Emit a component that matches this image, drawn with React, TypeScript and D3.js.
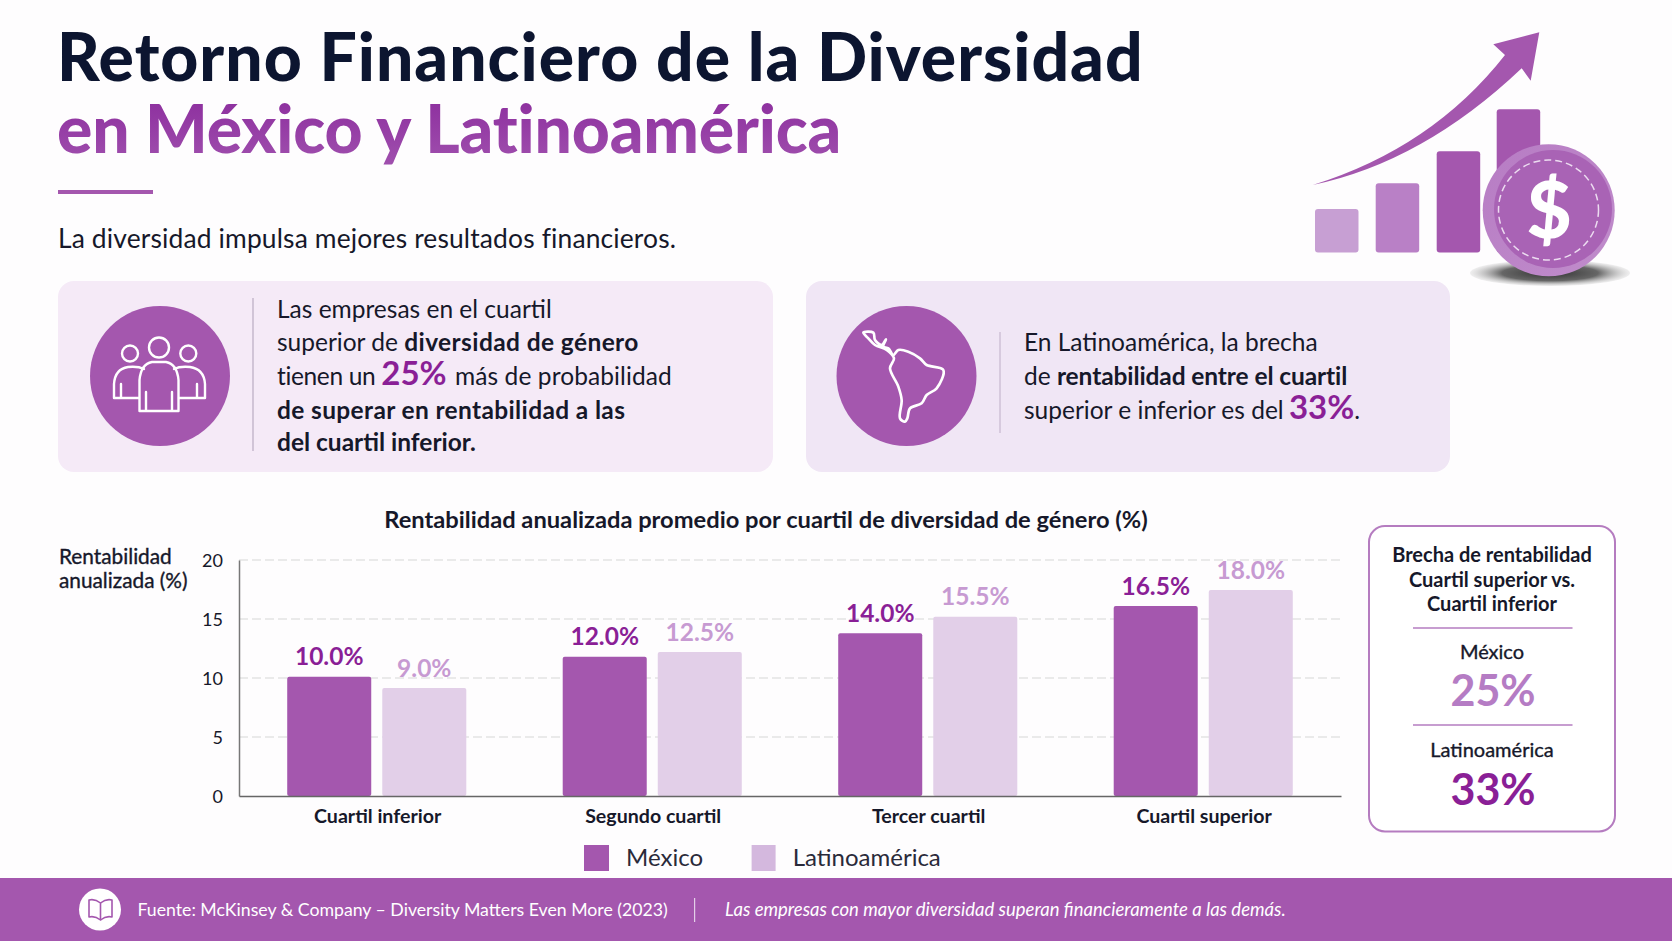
import React, { useRef, useEffect } from "react";
import * as d3 from "d3";

// bar heights as drawn in the picture, printed labels kept apart (they differ a bit)
const categories = ["Cuartil inferior", "Segundo cuartil", "Tercer cuartil", "Cuartil superior"];
const seriesNames = ["México", "Latinoamérica"];
const mexicoValues = [10.1, 11.8, 13.8, 16.1];
const latamValues = [9.15, 12.2, 15.2, 17.45];
const mexicoLabels = ["10.0%", "12.0%", "14.0%", "16.5%"];
const latamLabels = ["9.0%", "12.5%", "15.5%", "18.0%"];
const yTicks = [0, 5, 10, 15, 20];
const iconBars = [1, 2, 3.5, 5];
const iconBarColors = ["#c79fd3", "#b980c6", "#a457ae", "#a457ae"];

const FONT = "Lato, 'Open Sans', sans-serif";
const PURPLE = "#a457ae";
const DEEP = "#8a1f96";
const SOFT = "#c79ad2";
const PALE = "#e2cfe8";
const INK = "#16182a";

const mapPts: [number, number][] = [
  [130, 128], [160, 128], [165, 150], [185, 165], [198, 148], [190, 170], [205, 175], [220, 195],
  [235, 180], [265, 185], [300, 205], [320, 225], [370, 240], [350, 295], [320, 315], [305, 340],
  [270, 355], [262, 385], [255, 395], [240, 385], [245, 330], [235, 290], [210, 235], [222, 205],
  [200, 180], [165, 165], [145, 145],
];

type Span = { t: string; b?: boolean; big?: boolean; ls?: number; dx?: number };

const Para: React.FC<{ x: number; rows: { y: number; spans: Span[] }[] }> = ({ x, rows }) => (
  <g fontSize={24.5} fill={INK}>
    {rows.map((r) => (
      <text key={r.y} x={x} y={r.y}>
        {r.spans.map((s, i) => (
          <tspan
            key={i}
            dx={s.dx}
            fontWeight={s.b || s.big ? 700 : 400}
            fontSize={s.big ? 33 : undefined}
            fill={s.big ? DEEP : undefined}
            letterSpacing={s.ls}
          >
            {s.t}
          </tspan>
        ))}
      </text>
    ))}
  </g>
);

const App: React.FC = () => {
  const chartRef = useRef<SVGGElement>(null);

  useEffect(() => {
    if (!chartRef.current) return;
    const g = d3.select(chartRef.current);
    g.selectAll("*").remove();

    const x = d3.scaleBand<string>().domain(categories).range([239, 1341]).paddingInner(0.35).paddingOuter(0.175);
    const inner = d3.scaleBand<string>().domain(seriesNames).range([0, x.bandwidth()]).paddingInner(0.116);
    const y = d3.scaleLinear().domain([0, 20]).range([796, 560]);

    // gridlines
    g.append("g")
      .selectAll("line")
      .data(yTicks.filter((d) => d > 0))
      .join("line")
      .attr("x1", 239)
      .attr("x2", 1341)
      .attr("y1", (d) => y(d))
      .attr("y2", (d) => y(d))
      .attr("stroke", "#e3e3e3")
      .attr("stroke-width", 1.5)
      .attr("stroke-dasharray", "9 4");

    const series = [
      { name: seriesNames[0], values: mexicoValues, labels: mexicoLabels, fill: PURPLE, text: DEEP },
      { name: seriesNames[1], values: latamValues, labels: latamLabels, fill: PALE, text: SOFT },
    ];

    series.forEach((s) => {
      g.append("g")
        .selectAll("rect")
        .data(categories)
        .join("rect")
        .attr("x", (c) => (x(c) || 0) + (inner(s.name) || 0))
        .attr("y", (_, i) => y(s.values[i]))
        .attr("width", inner.bandwidth())
        .attr("height", (_, i) => y(0) - y(s.values[i]))
        .attr("rx", 2)
        .attr("fill", s.fill);

      g.append("g")
        .selectAll("text")
        .data(categories)
        .join("text")
        .attr("x", (c) => (x(c) || 0) + (inner(s.name) || 0) + inner.bandwidth() / 2)
        .attr("y", (_, i) => y(s.values[i]) - 11.5)
        .attr("text-anchor", "middle")
        .attr("font-size", 24.5)
        .attr("font-weight", 700)
        .attr("fill", s.text)
        .text((_, i) => s.labels[i]);
    });

    // axes
    const yAxis = g.append("g").attr("transform", "translate(239,0)").call(
      d3.axisLeft(y).tickValues(yTicks).tickSize(0).tickPadding(16)
    );
    yAxis.select(".domain").attr("stroke", "#777").attr("stroke-width", 1.5);
    yAxis.selectAll("text").attr("dy", "0.36em").attr("font-size", 18).attr("font-family", FONT).attr("fill", INK);

    const xAxis = g.append("g").attr("transform", "translate(0,796)").call(
      d3.axisBottom(x).tickSize(0).tickPadding(13)
    );
    xAxis.select(".domain").attr("stroke", "#666").attr("stroke-width", 1.5);
    xAxis
      .selectAll("text")
      .attr("dx", 0.9)
      .attr("font-size", 19.6)
      .attr("font-weight", 700)
      .attr("font-family", FONT)
      .attr("fill", INK);
  }, []);

  const mapPath = d3.line().curve(d3.curveCatmullRomClosed.alpha(0.5))(mapPts) || "";

  return (
    <svg
      width={1672}
      height={941}
      viewBox="0 0 1672 941"
      fontFamily={FONT}
      style={{ position: "absolute", left: 0, top: 0, display: "block" }}
    >
      <defs>
        <linearGradient id="ttl" x1="0" x2="0" y1="0" y2="1">
          <stop offset="0" stopColor="#8a2a9c" />
          <stop offset="1" stopColor="#a050ae" />
        </linearGradient>
        <linearGradient id="coinRim" x1="0" x2="1" y1="0" y2="1">
          <stop offset="0" stopColor="#b77cc4" />
          <stop offset="1" stopColor="#c08ccb" />
        </linearGradient>
        <radialGradient id="shadow">
          <stop offset="0" stopColor="#333" />
          <stop offset="0.6" stopColor="#666" />
          <stop offset="1" stopColor="#ccc" stopOpacity="0.3" />
        </radialGradient>
      </defs>
      <rect width={1672} height={941} fill="#fefdfe" />

      {/* heading */}
      <text x={57} y={80.5} fontSize={66} fontWeight={900} letterSpacing={1} fill="#0c1530">
        Retorno Financiero de la Diversidad
      </text>
      <text x={57} y={152.5} fontSize={66} fontWeight={900} letterSpacing={-0.15} fill="url(#ttl)">
        en México y Latinoamérica
      </text>
      <rect x={58} y={190} width={95} height={4} fill={PURPLE} />
      <text x={58} y={248} fontSize={26.4} letterSpacing={0.15} fill={INK}>
        La diversidad impulsa mejores resultados financieros.
      </text>

      {/* top right icon */}
      <g>
        {iconBars.map((_, i) => {
          const xs = [1315, 1375.7, 1436.7, 1496.7];
          const ys = [209, 183.3, 151.3, 109.3];
          return (
            <rect key={i} x={xs[i]} y={ys[i]} width={43.5} height={252.5 - ys[i]} rx={3} fill={iconBarColors[i]} />
          );
        })}
        <path
          d="M1312.7 185 Q1432 148 1505 55 L1493.3 44.3 L1539.3 32.3 L1530.7 80.7 L1521.7 68.3 Q1423 162 1312.7 185 Z"
          fill={PURPLE}
        />
        <ellipse cx={1550} cy={273} rx={80} ry={13} fill="url(#shadow)" />
        <circle cx={1548.7} cy={210.3} r={66} fill="url(#coinRim)" />
        <circle cx={1553} cy={209} r={59} fill="#a963b5" />
        <circle cx={1548.5} cy={210} r={50} fill="none" stroke="#ecdcf0" strokeWidth={1.5} strokeDasharray="7 4" />
        <text x={1549} y={238} textAnchor="middle" fontSize={78} fontWeight={900} fill="#fff">
          $
        </text>
      </g>

      {/* card left */}
      <rect x={58} y={281} width={715} height={191} rx={16} fill="#f5eaf7" />
      <circle cx={160} cy={376} r={70} fill={PURPLE} />
      <g fill="none" stroke="#fff" strokeWidth={2.4} strokeLinejoin="round" strokeLinecap="round">
        <circle cx={159} cy={347.5} r={10} />
        <circle cx={130} cy={353.5} r={8} />
        <circle cx={188.3} cy={353.5} r={8} />
        <path d="M139.5 411 V380 Q141 364 152 362 H166 Q177 364 178.5 380 V411 H172 V392 M172 411 H146 V392 M146 411 H139.5" />
        <path d="M144 369 Q138 366 128 367 Q115 369 114 384 V398 H139 M121 398 V384" />
        <path d="M174 369 Q180 366 190 367 Q204 369 205 384 V398 H179 M197 398 V384" />
      </g>
      <line x1={253} x2={253} y1={298} y2={451} stroke="#b9abc2" strokeWidth={1.2} />
      <Para
        x={277}
        rows={[
          { y: 318, spans: [{ t: "Las empresas en el cuartil" }] },
          { y: 351, spans: [{ t: "superior de " }, { t: "diversidad de género", b: true, ls: 0.4 }] },
          { y: 385, spans: [{ t: "tienen un ", ls: -0.35 }, { t: "25%", big: true }, { t: " más de probabilidad", dx: 2, ls: 0.1 }] },
          { y: 419, spans: [{ t: "de superar en rentabilidad a las", b: true, ls: 0.36 }] },
          { y: 451, spans: [{ t: "del cuartil inferior.", b: true }] },
        ]}
      />

      {/* card right */}
      <rect x={806} y={281} width={644} height={191} rx={16} fill="#f0e6f5" />
      <circle cx={906.5} cy={376} r={70} fill={PURPLE} />
      <g transform="translate(820,290) scale(0.3333)">
        <path d={mapPath} fill="none" stroke="#fff" strokeWidth={8} strokeLinejoin="round" />
      </g>
      <line x1={1000} x2={1000} y1={332} y2={433} stroke="#c6b8cf" strokeWidth={1.2} />
      <Para
        x={1024}
        rows={[
          { y: 351, spans: [{ t: "En Latinoamérica, la brecha" }] },
          { y: 385, spans: [{ t: "de " }, { t: "rentabilidad entre el cuartil", b: true, ls: -0.1 }] },
          { y: 419, spans: [{ t: "superior e inferior es del " }, { t: "33%", big: true, dx: -1 }, { t: "." }] },
        ]}
      />

      {/* chart */}
      <text x={766} y={528} textAnchor="middle" fontSize={23.7} fontWeight={700} fill={INK}>
        Rentabilidad anualizada promedio por cuartil de diversidad de género (%)
      </text>
      <text fontSize={20.8} fill={INK} stroke={INK} strokeWidth={0.35}>
        <tspan x={59} y={564}>Rentabilidad</tspan>
        <tspan x={59} y={588}>anualizada (%)</tspan>
      </text>
      <g ref={chartRef} />

      {/* legend */}
      <rect x={584} y={845} width={25} height={26} fill={PURPLE} />
      <text x={626} y={866} fontSize={24} fill="#2a2a3a">{seriesNames[0]}</text>
      <rect x={751.6} y={845} width={24} height={26} fill="#d4b8de" />
      <text x={792.7} y={866} fontSize={24} fill="#2a2a3a">{seriesNames[1]}</text>

      {/* gap box */}
      <rect x={1369} y={526} width={246} height={305.5} rx={16} fill="#fff" stroke="#b57cc0" strokeWidth={2} />
      <g textAnchor="middle" fill={INK} fontSize={20}>
        <text x={1492} y={562} fontWeight={700}>Brecha de rentabilidad</text>
        <text x={1492} y={586.5} fontWeight={700}>Cuartil superior vs.</text>
        <text x={1492} y={611} fontWeight={700}>Cuartil inferior</text>
        <text x={1492} y={659} stroke={INK} strokeWidth={0.35}>México</text>
        <text x={1492} y={756.5} stroke={INK} strokeWidth={0.35}>Latinoamérica</text>
      </g>
      <line x1={1413} x2={1572.5} y1={628} y2={628} stroke="#b57cc0" strokeWidth={1.5} />
      <line x1={1413} x2={1572.5} y1={725} y2={725} stroke="#b57cc0" strokeWidth={1.5} />
      <text x={1493} y={705.5} textAnchor="middle" fontSize={43} fontWeight={700} fill="#b57cc4">25%</text>
      <text x={1493} y={805} textAnchor="middle" fontSize={43} fontWeight={700} fill={DEEP}>33%</text>

      {/* footer */}
      <rect x={0} y={878} width={1672} height={63} fill={PURPLE} />
      <circle cx={100} cy={909.5} r={21} fill="#fff" />
      <g fill="none" stroke={PURPLE} strokeWidth={1.6} strokeLinejoin="round">
        <path d="M100.5 903 Q95 898.5 89 900 V917 Q95 915.5 100.5 920 Z" />
        <path d="M100.5 903 Q106 898.5 112 900 V917 Q106 915.5 100.5 920" />
      </g>
      <text x={137.5} y={916} fontSize={17.7} fill="#fff">
        Fuente: McKinsey &amp; Company – Diversity Matters Even More (2023)
      </text>
      <line x1={694.6} x2={694.6} y1={898} y2={922} stroke="#e3cfe8" strokeWidth={1.2} />
      <text x={725} y={916} fontSize={18.5} fontStyle="italic" fill="#fff">
        Las empresas con mayor diversidad superan financieramente a las demás.
      </text>
    </svg>
  );
};

export default App;
